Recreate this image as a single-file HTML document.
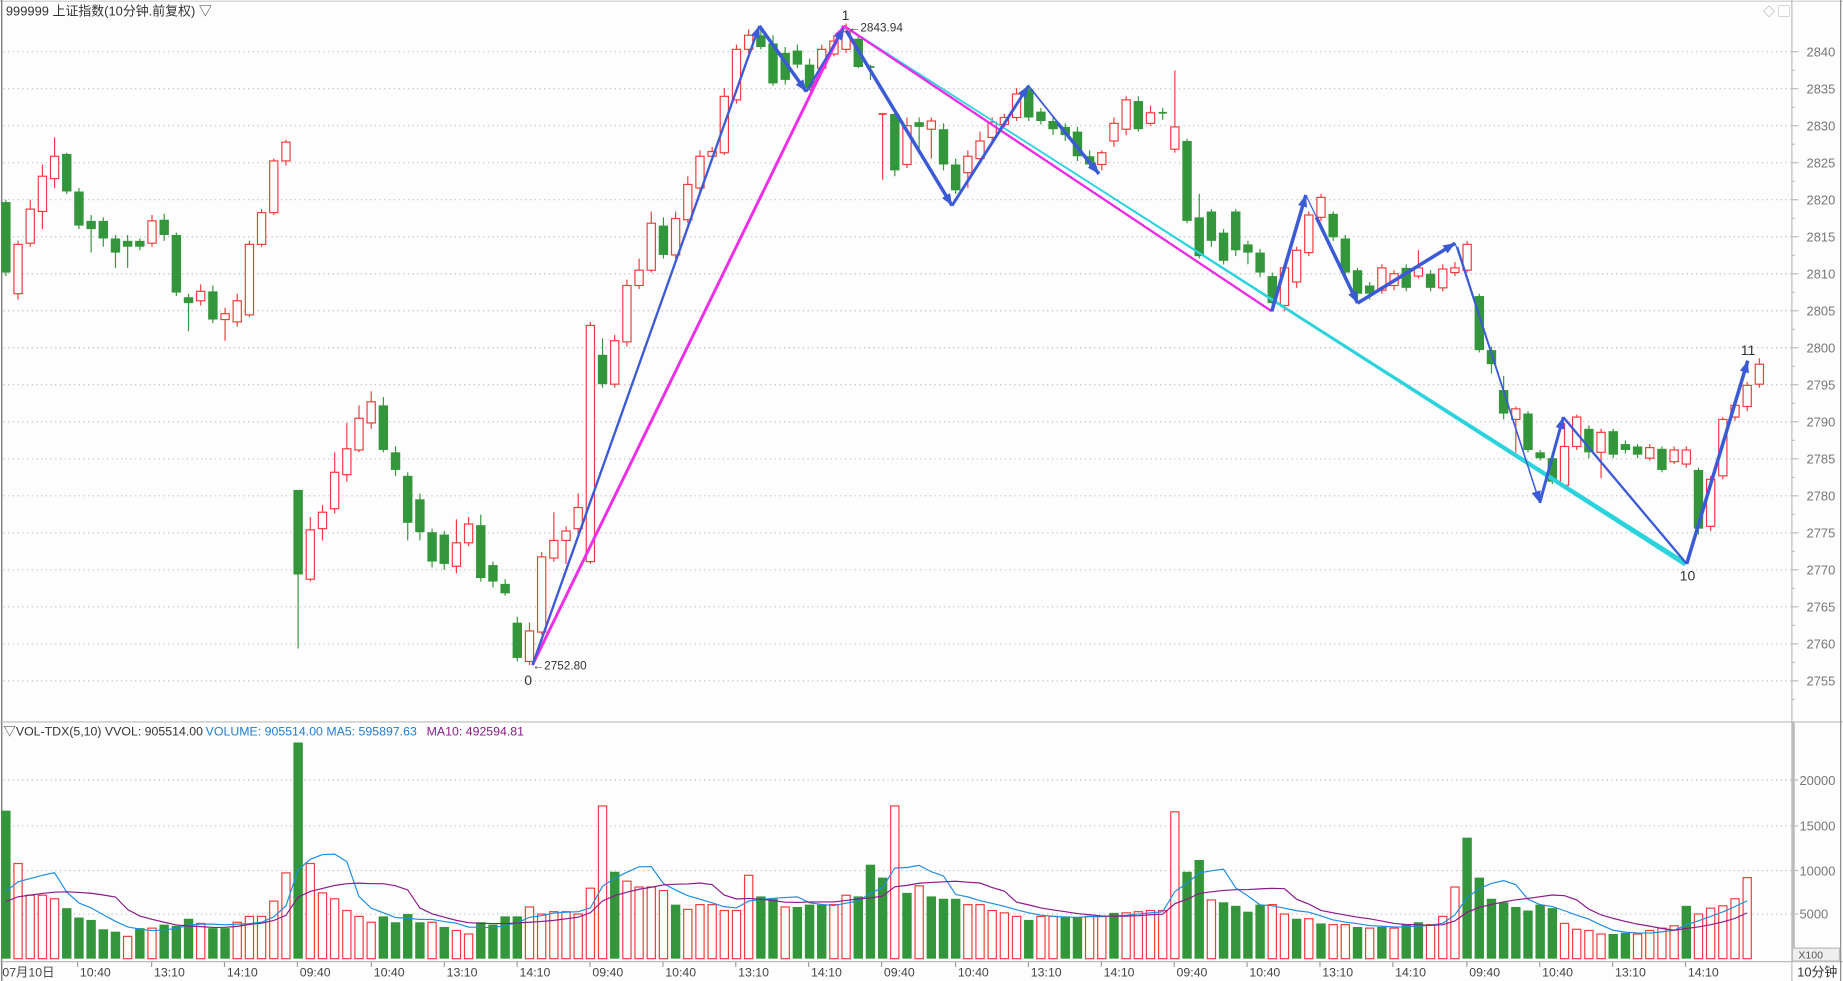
<!DOCTYPE html>
<html><head><meta charset="utf-8">
<style>
html,body{margin:0;padding:0;background:#fdfdfd;overflow:hidden}
svg{display:block}
text{font-family:"Liberation Sans","Noto Sans CJK SC",sans-serif}
</style></head>
<body>
<svg id="s" width="1843" height="981" viewBox="0 0 1568 835" preserveAspectRatio="none" xmlns="http://www.w3.org/2000/svg"></svg>
<script>
const C=[
"G,172,232,170,235","R,208,250,205,255","R,178,207,170,210","R,150,180,140,195","R,133,152,117,160",
"G,131,163,130,165","G,163,192,160,195","G,188,195,183,215","G,188,203,185,210","G,203,215,200,228",
"G,205,210,200,228","G,205,210,203,213","R,188,207,183,210","G,187,200,182,205","G,200,249,198,252",
"G,253,258,250,282","R,248,256,242,260","G,248,272,243,275","R,267,272,262,290","R,256,274,250,278",
"R,208,268,205,270","R,181,208,178,210","R,137,181,135,183","R,121,137,119,141",
"G,417,489,417,552","R,451,493,440,495","R,436,450,430,460","R,402,433,385,437","R,382,404,360,410",
"R,356,383,345,385","R,342,360,333,365","G,345,383,338,385","G,385,400,380,405","G,405,445,402,460",
"G,425,453,420,460","G,453,478,450,483","G,455,480,452,485","R,462,482,442,488","R,446,462,440,465",
"G,447,492,438,495","G,481,495,478,500","G,497,505,493,507","G,530,560,525,563","R,537,563,530,566",
"R,474,538,470,540","R,460,475,436,478","R,452,460,448,480","R,432,450,420,455",
"R,277,478,274,480","G,302,327,288,330","R,290,327,285,330","R,243,291,238,295","R,230,243,220,246",
"R,190,230,180,232","G,192,217,185,220","R,186,217,180,220","R,157,187,150,190","R,133,160,128,163",
"R,129,133,125,135","R,82,130,75,132","R,42,85,38,88","R,30,42,25,45","G,30,40,22,42",
"G,37,71,30,73","G,45,68,40,72","G,43,55,38,58","G,55,75,50,77","R,42,58,38,60",
"R,35,46,30,48","R,27,42,20,45","G,33,57,30,58","G,57,58,55,68",
"R,97,98,97,153","G,97,145,95,150","R,107,140,100,143","G,104,108,100,130","R,103,110,100,135",
"G,110,140,105,145","G,140,162,135,165","R,133,147,128,160","R,120,135,112,140","R,104,117,100,120",
"R,100,106,97,108","R,80,100,75,103","G,76,100,72,103","G,95,103,92,106","G,103,110,100,115",
"G,108,115,105,120","G,112,133,108,137","G,133,140,128,143","R,130,140,128,145","R,105,120,100,125",
"R,85,110,82,115","G,86,110,82,112","R,96,105,90,107","G,96,97,92,102","R,108,127,60,130",
"G,120,188,118,190","G,185,218,165,220","G,180,205,178,210","G,198,222,195,225","G,180,213,178,218",
"G,208,215,205,225","G,215,232,212,236","G,235,258,232,262","R,228,260,225,265","R,213,240,210,245",
"R,183,215,180,218","R,168,185,165,188","G,182,202,180,205","G,203,232,200,235","G,230,250,228,255",
"G,243,250,240,255","R,228,247,225,250","R,233,243,230,247","G,228,245,225,248","R,228,235,213,237",
"G,233,245,230,248","R,229,245,225,248","R,228,232,223,235","R,208,230,205,232",
"G,252,298,250,300","G,298,310,295,318","G,332,352,320,357","R,348,357,346,385","G,352,383,350,385",
"G,385,390,383,392","G,390,410,385,412","R,380,413,360,415","R,355,380,353,383","G,365,385,362,390",
"R,368,385,365,407","G,367,387,365,390","G,378,383,375,386","G,380,387,378,390","R,381,390,378,392",
"G,382,400,380,402","R,383,393,380,395","R,383,395,380,398","G,400,450,398,455","R,408,448,405,452",
"R,357,405,355,408","R,345,355,340,358","R,328,346,325,350","R,310,327,305,330"];
const V="G690 R735 R762 R762 R765 G773 G781 G783 G791 G793 R797 G790 R790 G787 G788 G782 R786 G790 G790 R785 R780 R780 R767 R743 G632 R735 R760 R765 R775 R780 R785 G780 G785 G778 G785 R785 G789 R792 R795 G785 G787 G780 G780 R772 R778 R776 R776 R778 R756 R686 G742 R750 R755 R755 R758 G770 R774 R770 R770 R775 R775 R745 G763 G765 R772 G772 G770 G770 R770 R762 G763 G736 G747 R686 G760 R754 G763 G765 G765 R770 R770 R775 R777 R780 G783 R780 R780 G780 G781 R780 R780 G777 R777 R776 R775 R775 R691 G742 G732 R766 G768 G771 G776 G770 R770 R778 G782 R782 G786 R787 R787 G789 R790 G789 R790 G787 G785 R787 R780 R755 G713 G747 G765 G768 G772 G775 G770 G773 R786 R791 R792 R795 G795 G794 R795 R792 R790 R788 G771 R778 R773 R771 R765 R747".split(" ");
const RED="#f23a3a",GRN="#33963a";
let h='';
const X=i=>5+i*10.36;
for(let k=0;k<18;k++){let y=44+k*31.5;h+=`<line x1="3" x2="1524" y1="${y}" y2="${y}" stroke="#bbb" stroke-dasharray="1,3"/><line x1="1524" x2="1530" y1="${y}" y2="${y}" stroke="#bbb"/><line x1="1524" x2="1527" y1="${y+15.8}" y2="${y+15.8}" stroke="#bbb"/><text x="1537" y="${y+4}" font-size="11" fill="#777">${2840-k*5}</text>`;}
[[664,20000],[703,15000],[741,10000],[778,5000]].forEach(([y,v])=>{h+=`<line x1="3" x2="1524" y1="${y}" y2="${y}" stroke="#bbb" stroke-dasharray="1,3"/><line x1="1524" x2="1530" y1="${y}" y2="${y}" stroke="#bbb"/><text x="1531" y="${y+4}" font-size="11" fill="#777">${v}</text>`;});
h+=`<line x1="0" x2="1568" y1="1" y2="1" stroke="#ccc"/><line x1="1.5" x2="1.5" y1="0" y2="835" stroke="#666"/><line x1="1524.5" x2="1524.5" y1="0" y2="835" stroke="#bbb"/><line x1="0" x2="1568" y1="614.5" y2="614.5" stroke="#bbb"/><line x1="0" x2="1568" y1="818.5" y2="818.5" stroke="#bbb"/><line x1="1566" x2="1566" y1="0" y2="835" stroke="#888"/><line x1="1526" x2="1526" y1="615" y2="818" stroke="#bbb" stroke-width="2"/>`;
C.forEach((s,i)=>{let [c,a,b,l1,l2]=s.split(",");a=+a;b=+b;let x=X(i),col=c=="R"?RED:GRN;
h+=`<line x1="${x}" x2="${x}" y1="${l1}" y2="${l2}" stroke="${col}"/>`;
if(b-a<1.5)h+=`<line x1="${x-3.5}" x2="${x+3.5}" y1="${a}" y2="${a}" stroke="${col}" stroke-width="1.5"/>`;
else if(c=="R")h+=`<rect x="${x-3.5}" y="${a}" width="7" height="${b-a}" fill="#fdfdfd" stroke="${col}"/>`;
else h+=`<rect x="${x-4}" y="${a}" width="8" height="${b-a}" fill="${col}"/>`;});
const vv=[];
V.forEach((s,i)=>{let c=s[0],t=+s.slice(1),x=X(i);vv.push(816-t);
if(c=="R")h+=`<rect x="${x-3.5}" y="${t}" width="7" height="${816-t}" fill="#fdfdfd" stroke="${RED}"/>`;
else h+=`<rect x="${x-4}" y="${t}" width="8" height="${816-t}" fill="${GRN}"/>`;});
function ma(n,col){let p=[];for(let i=0;i<vv.length;i++){let s=0,c=0;for(let j=i-n+1;j<=i;j++){s+=(j<0?40:vv[j]);c++;}p.push(X(i).toFixed(1)+","+(816-s/c).toFixed(1));}
h+=`<polyline points="${p.join(" ")}" fill="none" stroke="${col}" stroke-width="1"/>`;}
ma(5,"#1e8ee0");ma(10,"#8b1a8b");
function ln(a,b,c,d,col,w){h+=`<line x1="${a}" y1="${b}" x2="${c}" y2="${d}" stroke="${col}" stroke-width="${w}"/>`;}
function arr(a,b,c,d,col,w){ln(a,b,c,d,col,w);let ang=Math.atan2(d-b,c-a),L=10,W=4;
let p1=[c-L*Math.cos(ang)+W*Math.sin(ang),d-L*Math.sin(ang)-W*Math.cos(ang)],p2=[c-L*Math.cos(ang)-W*Math.sin(ang),d-L*Math.sin(ang)+W*Math.cos(ang)];
h+=`<polygon points="${c},${d} ${p1} ${p2}" fill="${col}"/>`;}
const BL="#3b5bd6",MG="#ee2ee8",CY="#2bd3dc";
h+=`<polygon points="718,22 1435,478 1433,482" fill="${CY}"/>`;ln(718,22,1435,480,CY,1.5);
ln(718,22,1082,265,MG,2);ln(453,566,718,22,MG,2.5);arr(690,78,718,22,MG,3);
arr(453,566,646,22,BL,2);arr(646,22,686,78,BL,3);arr(686,78,718,24,BL,2);
arr(720,26,810,175,BL,3);arr(810,175,875,73,BL,2.5);ln(875,73,935,148,BL,1.5);arr(900,105,935,148,BL,3);
arr(1082,265,1111,166,BL,3);ln(1111,166,1155,258,BL,1);arr(1120,185,1155,258,BL,3);arr(1155,258,1238,207,BL,3);
ln(1238,207,1310,428,BL,1);arr(1240,210,1310,428,BL,1.2);arr(1310,428,1330,355,BL,2.5);ln(1330,355,1435,480,BL,2);arr(1435,480,1487,307,BL,3);
h+=`<text x="5" y="13" font-size="11" fill="#333">999999 上证指数(10分钟.前复权) ▽</text>
<text x="716" y="17" font-size="12" fill="#333">1</text><text x="722" y="27" font-size="10" fill="#333">←2843.94</text>
<text x="446" y="583" font-size="12" fill="#333">0</text><text x="453" y="570" font-size="10" fill="#333">←2752.80</text>
<text x="1429" y="494" font-size="12" fill="#333">10</text><text x="1481" y="302" font-size="12" fill="#333">11</text>
<text x="3" y="626" font-size="10.5" fill="#333">▽VOL-TDX(5,10) VVOL: 905514.00</text>
<text x="175" y="626" font-size="10.5" fill="#1e7ed0">VOLUME: 905514.00  MA5: 595897.63</text>
<text x="363" y="626" font-size="10.5" fill="#8b1a8b">MA10: 492594.81</text>
<rect x="1525" y="807" width="40" height="11" fill="#eee" stroke="#bbb"/><text x="1530" y="816" font-size="9" fill="#555">X100</text>
<text x="1529" y="831" font-size="11" fill="#333">10分钟</text>
<text x="1500" y="13" font-size="10" fill="#999">◇ ▢</text>`;
const xl=[[2,"07月10日"],[66,"10:40"],[129,"13:10"],[191,"14:10"],[253,"09:40"],[316,"10:40"],[378,"13:10"],[440,"14:10"],[502,"09:40"],[564,"10:40"],[626,"13:10"],[688,"14:10"],[750,"09:40"],[813,"10:40"],[875,"13:10"],[937,"14:10"],[999,"09:40"],[1061,"10:40"],[1123,"13:10"],[1185,"14:10"],[1248,"09:40"],[1310,"10:40"],[1372,"13:10"],[1434,"14:10"]];
xl.forEach(([x,t],i)=>{if(i)h+=`<line x1="${x}" x2="${x}" y1="819" y2="823" stroke="#999"/>`;h+=`<text x="${x+(i?2:0)}" y="831" font-size="10.5" fill="#444">${t}</text>`;});
document.getElementById("s").innerHTML=h;
</script>
</body></html>
